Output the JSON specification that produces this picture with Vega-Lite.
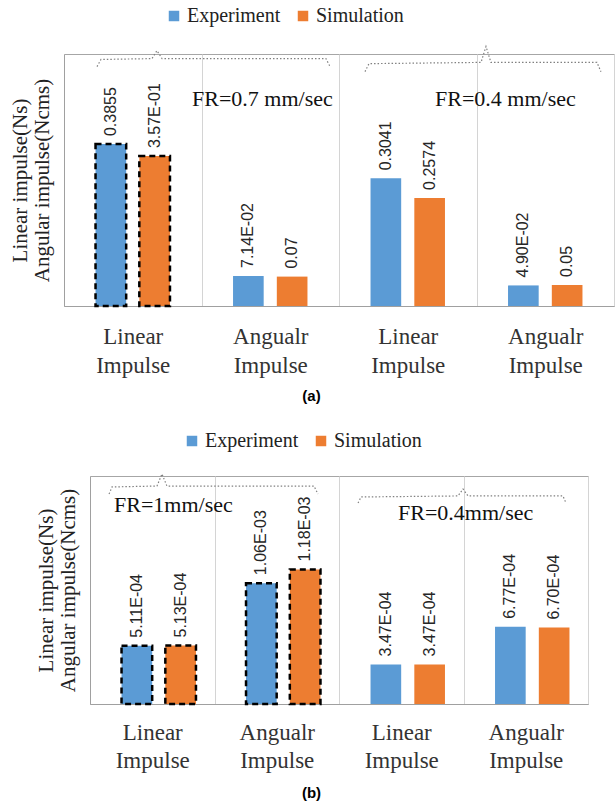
{
  "$schema": "https://vega.github.io/schema/vega-lite/v6.json",
  "padding": {"left": 8, "right": 0, "top": 5, "bottom": 5},
  "bounds": "flush",
  "center": true,
  "spacing": 170,
  "config": {
    "view": {"stroke": "#a6a6a6", "strokeWidth": 1},
    "font": "Liberation Serif"
  },
  "datasets": {
    "a": [
      {"grp": "g1", "series": "Experiment", "value": 0.3855, "label": "0.3855"},
      {"grp": "g1", "series": "Simulation", "value": 0.357, "label": "3.57E-01"},
      {"grp": "g2", "series": "Experiment", "value": 0.0714, "label": "7.14E-02"},
      {"grp": "g2", "series": "Simulation", "value": 0.07, "label": "0.07"},
      {"grp": "g3", "series": "Experiment", "value": 0.3041, "label": "0.3041"},
      {"grp": "g3", "series": "Simulation", "value": 0.2574, "label": "0.2574"},
      {"grp": "g4", "series": "Experiment", "value": 0.049, "label": "4.90E-02"},
      {"grp": "g4", "series": "Simulation", "value": 0.05, "label": "0.05"}
    ],
    "b": [
      {"grp": "g1", "series": "Experiment", "value": 0.000511, "label": "5.11E-04"},
      {"grp": "g1", "series": "Simulation", "value": 0.000513, "label": "5.13E-04"},
      {"grp": "g2", "series": "Experiment", "value": 0.00106, "label": "1.06E-03"},
      {"grp": "g2", "series": "Simulation", "value": 0.00118, "label": "1.18E-03"},
      {"grp": "g3", "series": "Experiment", "value": 0.000347, "label": "3.47E-04"},
      {"grp": "g3", "series": "Simulation", "value": 0.000347, "label": "3.47E-04"},
      {"grp": "g4", "series": "Experiment", "value": 0.000677, "label": "6.77E-04"},
      {"grp": "g4", "series": "Simulation", "value": 0.00067, "label": "6.70E-04"}
    ],
    "bracesA": [
      {"brace": 1, "i": 1, "bx": 0.240, "value": 0.570},
      {"brace": 1, "i": 2, "bx": 0.269, "value": 0.587},
      {"brace": 1, "i": 3, "bx": 0.640, "value": 0.589},
      {"brace": 1, "i": 4, "bx": 0.676, "value": 0.608},
      {"brace": 1, "i": 5, "bx": 0.713, "value": 0.589},
      {"brace": 1, "i": 6, "bx": 1.905, "value": 0.589},
      {"brace": 1, "i": 7, "bx": 1.935, "value": 0.570},
      {"brace": 2, "i": 1, "bx": 2.189, "value": 0.558},
      {"brace": 2, "i": 2, "bx": 2.218, "value": 0.577},
      {"brace": 2, "i": 3, "bx": 3.033, "value": 0.580},
      {"brace": 2, "i": 4, "bx": 3.069, "value": 0.618},
      {"brace": 2, "i": 5, "bx": 3.105, "value": 0.580},
      {"brace": 2, "i": 6, "bx": 3.876, "value": 0.580},
      {"brace": 2, "i": 7, "bx": 3.905, "value": 0.558}
    ],
    "bracesB": [
      {"brace": 1, "i": 1, "bx": 0.153, "value": 0.001842},
      {"brace": 1, "i": 2, "bx": 0.177, "value": 0.001904},
      {"brace": 1, "i": 3, "bx": 0.538, "value": 0.001912},
      {"brace": 1, "i": 4, "bx": 0.578, "value": 0.002018},
      {"brace": 1, "i": 5, "bx": 0.618, "value": 0.001912},
      {"brace": 1, "i": 6, "bx": 1.799, "value": 0.001912},
      {"brace": 1, "i": 7, "bx": 1.831, "value": 0.001842},
      {"brace": 2, "i": 1, "bx": 2.153, "value": 0.001763},
      {"brace": 2, "i": 2, "bx": 2.177, "value": 0.001816},
      {"brace": 2, "i": 3, "bx": 2.956, "value": 0.001825},
      {"brace": 2, "i": 4, "bx": 2.996, "value": 0.001886},
      {"brace": 2, "i": 5, "bx": 3.036, "value": 0.001825},
      {"brace": 2, "i": 6, "bx": 3.799, "value": 0.001825},
      {"brace": 2, "i": 7, "bx": 3.823, "value": 0.001763}
    ],
    "notesA": [
      {"nx": 0.931, "value": 0.492, "note": "FR=0.7 mm/sec"},
      {"nx": 2.698, "value": 0.492, "note": "FR=0.4 mm/sec"}
    ],
    "notesB": [
      {"nx": 0.193, "value": 0.001746, "note": "FR=1mm/sec"},
      {"nx": 2.474, "value": 0.001675, "note": "FR=0.4mm/sec"}
    ]
  },
  "vconcat": [
    {
      "width": 550,
      "height": 252,
      "title": {"text": "(a)", "orient": "bottom", "anchor": "middle", "frame": "bounds", "font": "Liberation Sans", "fontSize": 15, "fontWeight": "bold", "color": "#000000", "offset": 12},
      "encoding": {
        "y": {
          "field": "value", "type": "quantitative",
          "scale": {"domain": [0, 0.6], "nice": false, "zero": true},
          "axis": {"title": ["Linear impulse(Ns)", "Angular impulse(Ncms)"], "labels": false, "ticks": false, "grid": false, "domainColor": "#a0a0a0", "titleFont": "Liberation Serif", "titleFontSize": 21, "titleFontWeight": "normal", "titleColor": "#222222", "titlePadding": 12, "titleLineHeight": 22}
        }
      },
      "layer": [
        {
          "data": {"name": "a"},
          "mark": {"type": "bar", "strokeDash": [6, 4], "strokeWidth": 2.5},
          "encoding": {
            "x": {"field": "grp", "type": "nominal", "scale": {"paddingInner": 0, "paddingOuter": 0},
              "axis": {"title": null, "labelExpr": "(datum.value == 'g1' || datum.value == 'g3') ? ['Linear', 'Impulse'] : ((datum.value == 'g2' || datum.value == 'g4') ? ['Angualr', 'Impulse'] : '')", "labelAngle": 0, "labelFont": "Liberation Serif", "labelFontSize": 23, "labelColor": "#333333", "labelLineHeight": 29, "labelPadding": 19, "labelBaseline": "top", "ticks": false, "grid": true, "tickBand": "extent", "gridColor": "#d4d4d4", "domainColor": "#a0a0a0"}},
            "xOffset": {"field": "series", "type": "nominal", "scale": {"paddingInner": 0.3, "paddingOuter": 0.72}},
            "color": {"field": "series", "type": "nominal", "scale": {"domain": ["Experiment", "Simulation"], "range": ["#5B9BD5", "#ED7D31"]},
              "legend": {"orient": "none", "legendX": 100, "legendY": -48, "direction": "horizontal", "title": null, "symbolType": "square", "symbolSize": 110, "symbolStrokeWidth": 0, "labelFont": "Liberation Serif", "labelFontSize": 20, "labelColor": "#222222", "columnPadding": 12, "labelOffset": 3}},
            "stroke": {"condition": {"test": "datum.grp == 'g1'", "value": "#000000"}, "value": null}
          }
        },
        {
          "data": {"name": "a"},
          "mark": {"type": "text", "angle": 270, "align": "left", "baseline": "middle", "dx": 8, "font": "Liberation Sans", "fontSize": 16, "color": "#262626"},
          "encoding": {
            "x": {"field": "grp", "type": "nominal", "scale": {"paddingInner": 0, "paddingOuter": 0}, "axis": null},
            "xOffset": {"field": "series", "type": "nominal", "scale": {"paddingInner": 0.3, "paddingOuter": 0.72}},
            "text": {"field": "label", "type": "nominal"}
          }
        },
        {
          "data": {"name": "bracesA"},
          "mark": {"type": "line", "strokeDash": [1.5, 2], "color": "#808080", "strokeWidth": 1.2},
          "encoding": {
            "x": {"field": "bx", "type": "quantitative", "scale": {"domain": [0, 4], "nice": false, "zero": false}, "axis": null},
            "detail": {"field": "brace", "type": "nominal"},
            "order": {"field": "i", "type": "quantitative"}
          }
        },
        {
          "data": {"name": "notesA"},
          "mark": {"type": "text", "align": "left", "baseline": "middle", "font": "Liberation Serif", "fontSize": 22, "color": "#111111"},
          "encoding": {
            "x": {"field": "nx", "type": "quantitative", "scale": {"domain": [0, 4], "nice": false, "zero": false}, "axis": null},
            "text": {"field": "note", "type": "nominal"}
          }
        }
      ],
      "resolve": {"scale": {"x": "independent"}}
    },
    {
      "width": 498,
      "height": 228,
      "title": {"text": "(b)", "orient": "bottom", "anchor": "middle", "frame": "bounds", "font": "Liberation Sans", "fontSize": 15, "fontWeight": "bold", "color": "#000000", "offset": 14},
      "encoding": {
        "y": {
          "field": "value", "type": "quantitative",
          "scale": {"domain": [0, 0.002], "nice": false, "zero": true},
          "axis": {"title": ["Linear impulse(Ns)", "Angular impulse(Ncms)"], "labels": false, "ticks": false, "grid": false, "domainColor": "#a0a0a0", "titleFont": "Liberation Serif", "titleFontSize": 21, "titleFontWeight": "normal", "titleColor": "#222222", "titlePadding": 12, "titleLineHeight": 22}
        }
      },
      "layer": [
        {
          "data": {"name": "b"},
          "mark": {"type": "bar", "strokeDash": [6, 4], "strokeWidth": 2.5},
          "encoding": {
            "x": {"field": "grp", "type": "nominal", "scale": {"paddingInner": 0, "paddingOuter": 0},
              "axis": {"title": null, "labelExpr": "(datum.value == 'g1' || datum.value == 'g3') ? ['Linear', 'Impulse'] : ((datum.value == 'g2' || datum.value == 'g4') ? ['Angualr', 'Impulse'] : '')", "labelAngle": 0, "labelFont": "Liberation Serif", "labelFontSize": 23, "labelColor": "#333333", "labelLineHeight": 28, "labelPadding": 17, "labelBaseline": "top", "ticks": false, "grid": true, "tickBand": "extent", "gridColor": "#d4d4d4", "domainColor": "#a0a0a0"}},
            "xOffset": {"field": "series", "type": "nominal", "scale": {"paddingInner": 0.3, "paddingOuter": 0.72}},
            "color": {"field": "series", "type": "nominal", "scale": {"domain": ["Experiment", "Simulation"], "range": ["#5B9BD5", "#ED7D31"]},
              "legend": {"orient": "none", "legendX": 92, "legendY": -45, "direction": "horizontal", "title": null, "symbolType": "square", "symbolSize": 110, "symbolStrokeWidth": 0, "labelFont": "Liberation Serif", "labelFontSize": 20, "labelColor": "#222222", "columnPadding": 12, "labelOffset": 3}},
            "stroke": {"condition": {"test": "datum.grp == 'g1' || datum.grp == 'g2'", "value": "#000000"}, "value": null}
          }
        },
        {
          "data": {"name": "b"},
          "mark": {"type": "text", "angle": 270, "align": "left", "baseline": "middle", "dx": 8, "font": "Liberation Sans", "fontSize": 16, "color": "#262626"},
          "encoding": {
            "x": {"field": "grp", "type": "nominal", "scale": {"paddingInner": 0, "paddingOuter": 0}, "axis": null},
            "xOffset": {"field": "series", "type": "nominal", "scale": {"paddingInner": 0.3, "paddingOuter": 0.72}},
            "text": {"field": "label", "type": "nominal"}
          }
        },
        {
          "data": {"name": "bracesB"},
          "mark": {"type": "line", "strokeDash": [1.5, 2], "color": "#808080", "strokeWidth": 1.2},
          "encoding": {
            "x": {"field": "bx", "type": "quantitative", "scale": {"domain": [0, 4], "nice": false, "zero": false}, "axis": null},
            "detail": {"field": "brace", "type": "nominal"},
            "order": {"field": "i", "type": "quantitative"}
          }
        },
        {
          "data": {"name": "notesB"},
          "mark": {"type": "text", "align": "left", "baseline": "middle", "font": "Liberation Serif", "fontSize": 22, "color": "#111111"},
          "encoding": {
            "x": {"field": "nx", "type": "quantitative", "scale": {"domain": [0, 4], "nice": false, "zero": false}, "axis": null},
            "text": {"field": "note", "type": "nominal"}
          }
        }
      ],
      "resolve": {"scale": {"x": "independent"}}
    }
  ],
  "resolve": {"scale": {"color": "independent", "y": "independent", "x": "independent"}, "legend": {"color": "independent"}}
}
